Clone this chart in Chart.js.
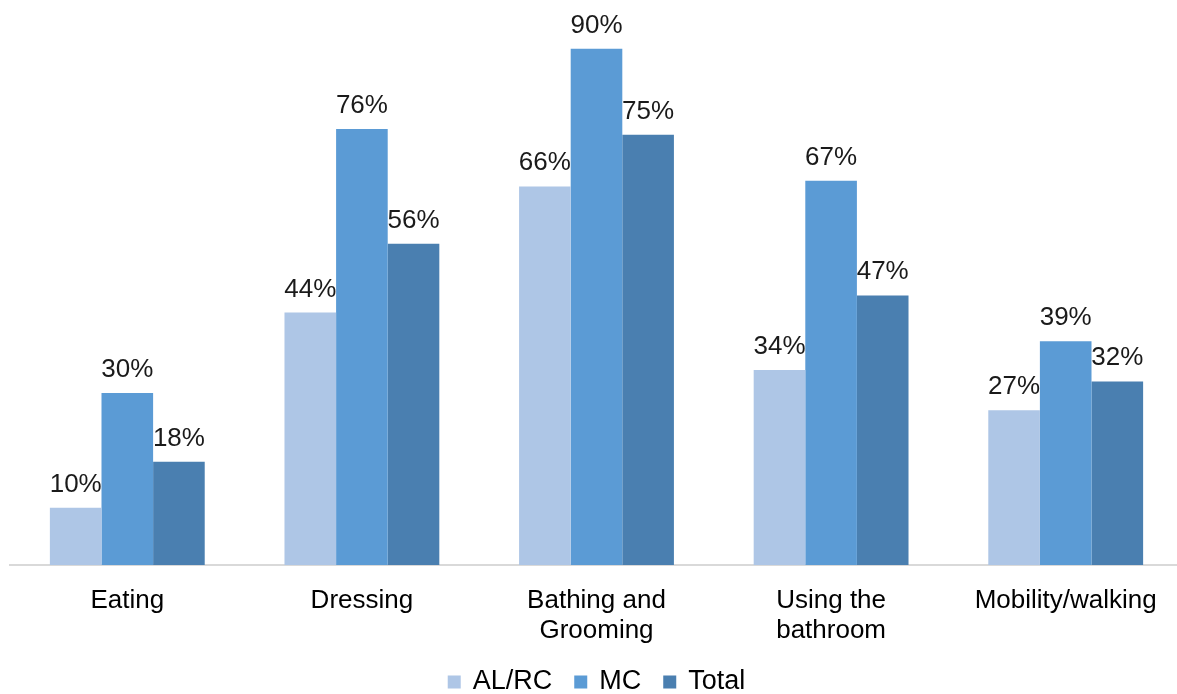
<!DOCTYPE html>
<html lang="en">
<head>
    <meta charset="UTF-8">
    <title>ADL Assistance</title>
    <script src="https://cdn.jsdelivr.net/npm/chart.js"></script>
    <style>
        body {
            margin: 0;
            padding: 0;
            background-color: #ffffff;
            overflow: hidden;
        }
        #wrap {
            width: 1177px;
            height: 694px;
            overflow: hidden;
        }
    </style>
</head>
<body>
    <div id="wrap">
        <canvas id="adlChart" width="1195" height="694"></canvas>
    </div>
    <script>
        const categories = ['Eating', 'Dressing', ['Bathing and', 'Grooming'], ['Using the', 'bathroom'], 'Mobility/walking'];
        const alrc = [10, 44, 66, 34, 27];
        const mc = [30, 76, 90, 67, 39];
        const total = [18, 56, 75, 47, 32];

        const FONT = 'Arial, "Liberation Sans", sans-serif';

        // value labels above each bar
        const barLabels = {
            id: 'barLabels',
            afterDatasetsDraw(chart) {
                const ctx = chart.ctx;
                ctx.save();
                ctx.font = '26px ' + FONT;
                ctx.fillStyle = '#1a1a1a';
                ctx.textAlign = 'center';
                ctx.textBaseline = 'alphabetic';
                chart.data.datasets.forEach((ds, i) => {
                    chart.getDatasetMeta(i).data.forEach((bar, j) => {
                        ctx.fillText(ds.data[j] + '%', bar.x, bar.y - 16);
                    });
                });
                ctx.restore();
            }
        };

        // legend drawn by hand so it can sit low with wide gaps
        const bottomLegend = {
            id: 'bottomLegend',
            afterDraw(chart) {
                const ctx = chart.ctx;
                const box = 13, gap = 12, itemGap = 22, y = 682;
                ctx.save();
                ctx.font = '27px ' + FONT;
                ctx.textBaseline = 'middle';
                ctx.textAlign = 'left';
                const items = chart.data.datasets.map(ds => ({
                    text: ds.label, color: ds.backgroundColor, w: ctx.measureText(ds.label).width
                }));
                let width = items.reduce((s, it) => s + box + gap + it.w, 0) + itemGap * (items.length - 1);
                let x = (chart.chartArea.left + chart.chartArea.right) / 2 - width / 2;
                items.forEach(it => {
                    ctx.fillStyle = it.color;
                    ctx.fillRect(x, y - box / 2, box, box);
                    ctx.fillStyle = '#000000';
                    ctx.fillText(it.text, x + box + gap, y);
                    x += box + gap + it.w + itemGap;
                });
                ctx.restore();
            }
        };

        new Chart(document.getElementById('adlChart'), {
            type: 'bar',
            data: {
                labels: categories,
                datasets: [
                    { label: 'AL/RC', data: alrc, backgroundColor: '#aec6e6' },
                    { label: 'MC', data: mc, backgroundColor: '#5b9bd5' },
                    { label: 'Total', data: total, backgroundColor: '#4a7fb0' }
                ]
            },
            options: {
                responsive: false,
                animation: false,
                layout: { padding: { left: 10, right: 12, top: 0, bottom: 44 } },
                datasets: {
                    bar: { categoryPercentage: 0.66, barPercentage: 1 }
                },
                scales: {
                    y: {
                        display: false,
                        min: 0,
                        max: 98.5
                    },
                    x: {
                        grid: { display: false, drawTicks: false },
                        border: { color: '#d9d9d9', width: 2 },
                        ticks: {
                            color: '#000000',
                            padding: 21,
                            maxRotation: 0,
                            autoSkip: false,
                            font: { family: FONT, size: 26, lineHeight: 1.15 }
                        },
                        afterFit(scale) { scale.height = 85; }
                    }
                },
                plugins: {
                    tooltip: { enabled: false },
                    legend: { display: false }
                }
            },
            plugins: [barLabels, bottomLegend]
        });
    </script>
</body>
</html>
